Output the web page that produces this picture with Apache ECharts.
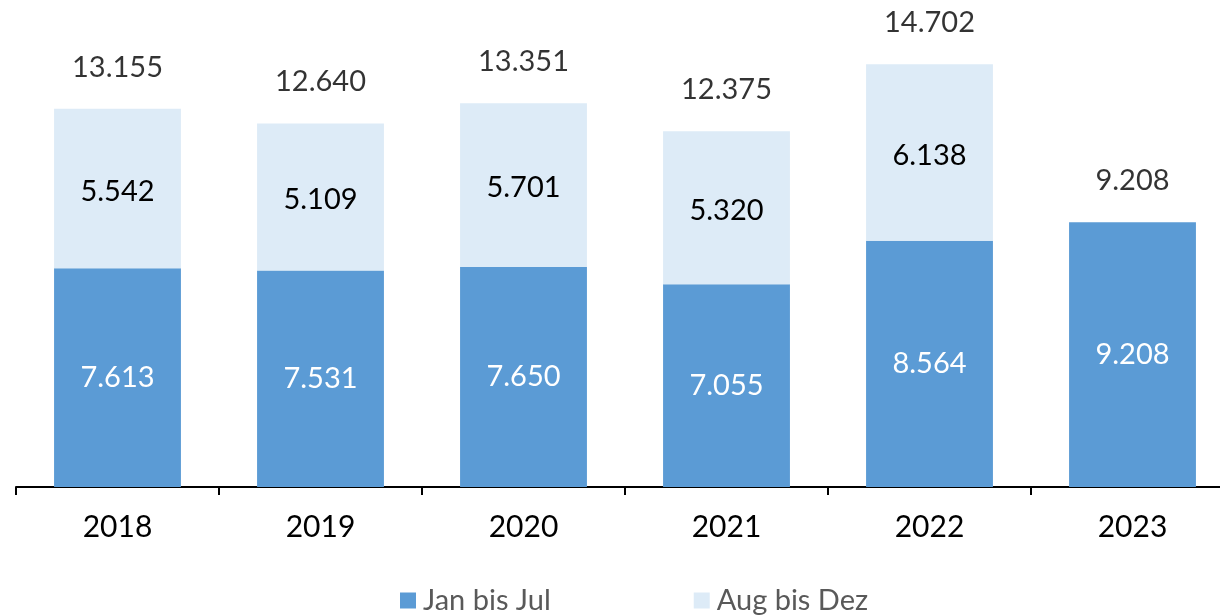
<!DOCTYPE html>
<html>
<head>
<meta charset="utf-8">
<script src="https://cdn.jsdelivr.net/npm/echarts@6/dist/echarts.min.js"></script>
<style>html,body{margin:0;padding:0;background:#fff}#c{width:1220px;height:615px}</style>
</head>
<body>
<div id="c"></div>
<script>
const categories = ['2018', '2019', '2020', '2021', '2022', '2023'];
const janBisJul = [7613, 7531, 7650, 7055, 8564, 9208];
const augBisDez = [5542, 5109, 5701, 5320, 6138, null];
const totals = [13155, 12640, 13351, 12375, 14702, 9208];

const fmt = v => {
  const n = typeof v === 'number' ? v : v.value;
  return String(n).replace(/\B(?=(\d{3})+(?!\d))/g, '.');
};
const FONT = 'Lato';

const chart = echarts.init(document.getElementById('c'), null, {renderer: 'canvas'});
chart.setOption({
  animation: false,
  textStyle: {fontFamily: FONT},
  grid: {left: 16, width: 1218, top: 27, bottom: 128, containLabel: false, outerBoundsMode: 'none'},
  legend: {
    data: ['Jan bis Jul', 'Aug bis Dez'],
    left: 395, top: 581,
    itemWidth: 16, itemHeight: 16, itemGap: 143,
    icon: 'rect',
    textStyle: {fontFamily: FONT, fontSize: 29, color: '#595959', padding: [0, 0, 0, 2]}
  },
  xAxis: {
    type: 'category',
    data: categories,
    axisLine: {lineStyle: {color: '#000', width: 2}},
    axisTick: {show: true, length: 8, lineStyle: {color: '#000', width: 2}},
    axisLabel: {fontFamily: FONT, fontSize: 30, color: '#000', margin: 25}
  },
  yAxis: {
    type: 'value', min: 0, max: 16000, show: false,
    splitLine: {show: false}
  },
  series: [
    {
      name: 'Jan bis Jul', type: 'bar', stack: 's', data: janBisJul,
      barCategoryGap: '37.5%',
      itemStyle: {color: '#5B9BD5'},
      label: {show: true, position: 'inside', formatter: fmt, color: '#fff', fontFamily: FONT, fontSize: 29}
    },
    {
      name: 'Aug bis Dez', type: 'bar', stack: 's', data: augBisDez,
      itemStyle: {color: '#DDEBF7'},
      label: {show: true, position: 'inside', formatter: fmt, color: '#000', fontFamily: FONT, fontSize: 29, offset: [0, 3]}
    },
    {
      name: 'Gesamt', type: 'scatter', data: totals, symbolSize: 0, silent: true,
      label: {show: true, position: 'top', distance: 27, formatter: fmt, color: '#000', fontFamily: FONT, fontSize: 29}
    }
  ]
});
</script>
</body>
</html>
